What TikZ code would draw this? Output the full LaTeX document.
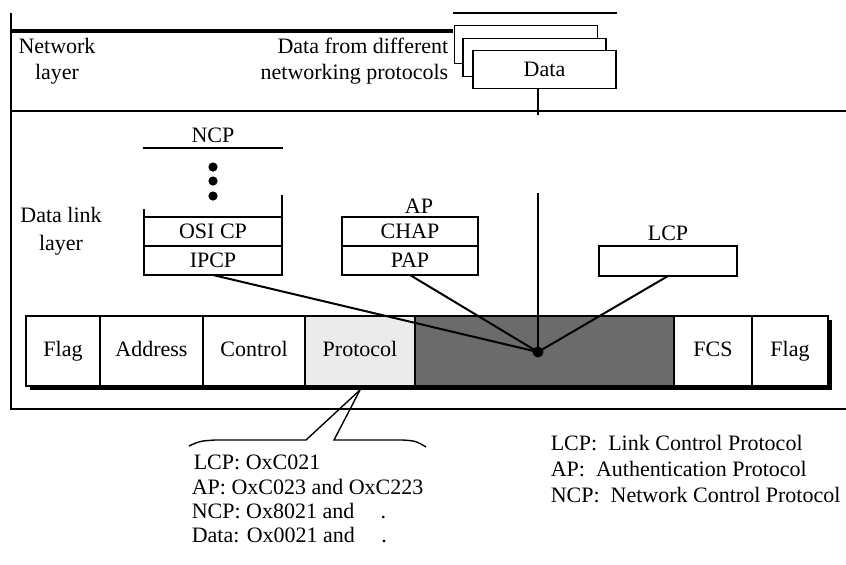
\documentclass[tikz,border=0pt]{standalone}
\usepackage{fontspec}
\setmainfont{Liberation Serif}
\usetikzlibrary{positioning,calc,backgrounds}

\begin{document}
\begin{tikzpicture}[x=0.5pt, y=-0.5pt, line width=0.8pt,
    every node/.style={font=\fontsize{11}{13.5}\selectfont, inner sep=1pt},
    field/.style={draw, line width=0.9pt, fill=white, minimum height=35pt, outer sep=0pt, inner sep=0pt, text height=7.5pt, text depth=2.2pt},
    stackbox/.style={draw, line width=0.9pt, fill=white, minimum width=69pt, minimum height=14.5pt, outer sep=0pt, inner sep=0pt},
    pdubox/.style={draw, line width=0.9pt, fill=white, minimum width=71.5pt, minimum height=19pt, outer sep=0pt}]
  \useasboundingbox (0,0) rectangle (846,564);
  % layer frame
  \draw (11,13) -- (11,409) -- (846,409);
  \draw (11,111) -- (846,111);
  \draw[line width=1.6pt] (11,31) -- (453,31);
  \draw (453,13) -- (617,13);
  % network layer
  \node[anchor=base] (netlbl) at (57,53) {Network};
  \node[anchor=base] at (57,79) {layer};
  \node[anchor=base east] (fromlbl) at (451,53) {Data from different};
  \node[anchor=base east] at (451,79) {networking protocols};
  \node[pdubox] (pdu3) at (526,44.5) {};
  \node[pdubox] (pdu2) at (534.5,57.5) {};
  \node[pdubox] (pdu1) at (544.5,69.5) {Data};
  \coordinate (sepjoin) at (538,115);
  \draw (pdu1.south -| sepjoin) -- (sepjoin);
  % data link layer
  \node[anchor=base] (dllbl) at (61,222) {Data link};
  \node[anchor=base] at (61,250) {layer};
  \node[anchor=base] (ncplbl) at (213,142) {NCP};
  \draw[line width=0.6pt] (143,148) -- (283,148);
  \foreach \y in {167,181,196}
    \fill (213,\y) circle (2.3pt);
  \node[stackbox] (osicp) at (213,231.5) {OSI CP};
  \node[stackbox, below=0pt of osicp] (ipcp) {IPCP};
  \draw[line width=0.9pt] (osicp.north west) -- ++(0,-8);
  \draw[line width=0.9pt] (osicp.north east) -- ++(0,-22);
  \node[anchor=base] (aplbl) at (419,213) {AP};
  \node[stackbox, minimum width=68pt] (chap) at (410,231.5) {CHAP};
  \node[stackbox, minimum width=68pt, below=0pt of chap] (pap) {PAP};
  \node[anchor=base] (lcplbl) at (668,240) {LCP};
  \node[stackbox, minimum height=15pt] (lcpbox) at (668,261) {};
  % PPP frame
  \node[field, minimum width=37pt, anchor=west] (flag1) at (26,351) {Flag};
  \node[field, minimum width=51.5pt, right=0pt of flag1] (addr) {Address};
  \node[field, minimum width=51pt, right=0pt of addr] (ctrl) {Control};
  \node[field, minimum width=55pt, right=0pt of ctrl, fill=black!8] (proto) {Protocol};
  \node[field, minimum width=129.5pt, right=0pt of proto, fill=black!58] (payload) {};
  \node[field, minimum width=39pt, right=0pt of payload] (fcs) {FCS};
  \node[field, minimum width=38pt, right=0pt of fcs] (flag2) {Flag};
  \begin{scope}[on background layer]
    \fill ($(flag1.north west)+(4,4)$) rectangle ($(flag2.south east)+(4,4)$);
  \end{scope}
  \node[circle, fill, inner sep=0pt, minimum size=5.5pt] (hub) at (538,352) {};
  \coordinate (hubtop) at (538,193);
  \draw[line width=1pt] (hubtop) -- (hub.center);
  \foreach \src in {ipcp, pap, lcpbox}
    \draw[line width=1pt] (\src.south) -- (hub.center);
  % protocol field values
  \coordinate (calltip) at ($(proto.south)+(0,4)$);
  \draw[line width=0.7pt] (calltip) -- (306,440) -- (215,440) .. controls (200,441) .. (189,446);
  \draw[line width=0.7pt] (calltip) -- (334,440) -- (403,440) .. controls (416,441) .. (426,447);
  \node[anchor=base west] (codelcp) at (191,469) {LCP: OxC021};
  \node[anchor=base west] (codeap) at (189,494) {AP: OxC023 and OxC223};
  \node[anchor=base west] (codencp) at (189,518) {NCP: Ox8021 and\hspace{1.2em}.};
  \node[anchor=base west] (codedata) at (189,542) {Data: Ox0021 and\hspace{1.2em}.};
  % legend
  \node[anchor=base west] (leglcp) at (548,450) {LCP:\ \ Link Control Protocol};
  \node[anchor=base west] (legap) at (548,476) {AP:\ \ Authentication Protocol};
  \node[anchor=base west] (legncp) at (548,502) {NCP:\ \ Network Control Protocol};
\end{tikzpicture}
\end{document}
